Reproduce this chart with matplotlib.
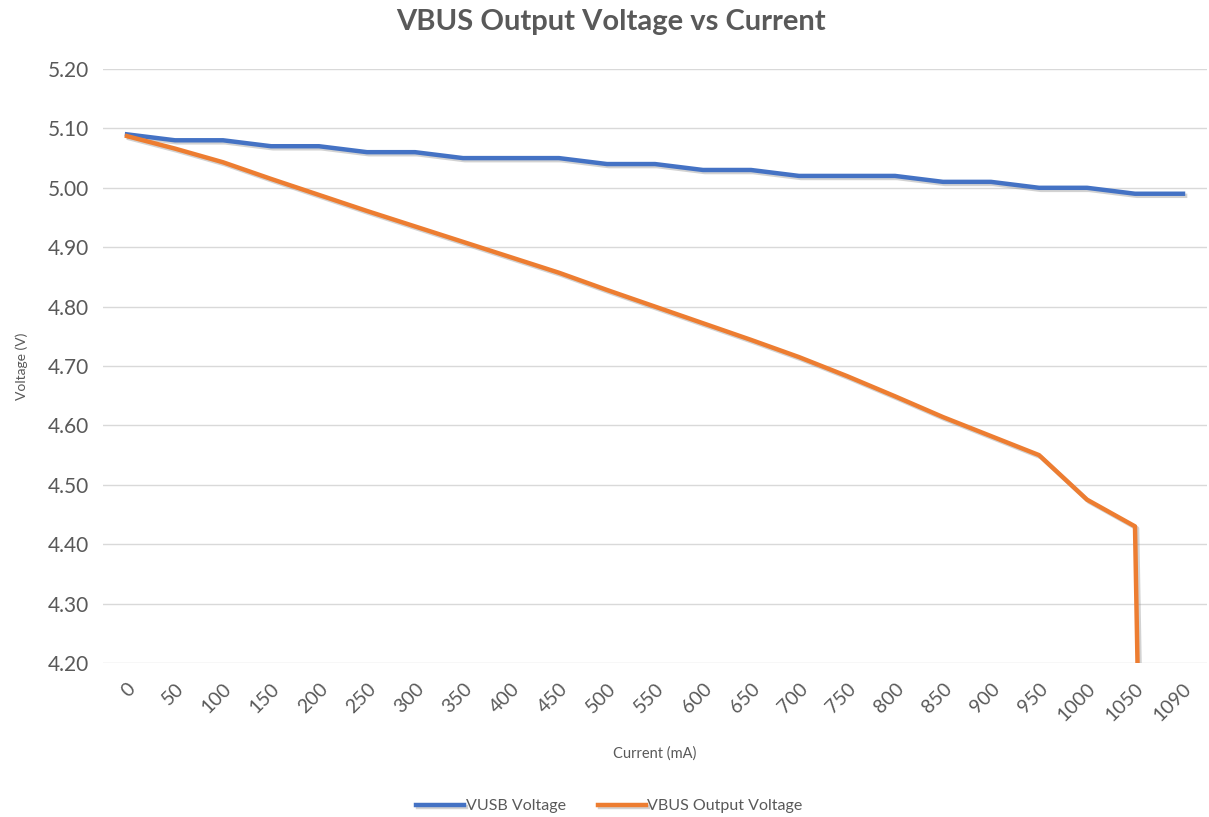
import matplotlib
matplotlib.use("Agg")
import matplotlib.pyplot as plt
import matplotlib.patheffects as pe

# data
current_ma = ["0", "50", "100", "150", "200", "250", "300", "350", "400", "450",
              "500", "550", "600", "650", "700", "750", "800", "850", "900", "950",
              "1000", "1050", "1090"]
vusb_voltage = [5.09, 5.08, 5.08, 5.07, 5.07, 5.06, 5.06, 5.05, 5.05, 5.05,
                5.04, 5.04, 5.03, 5.03, 5.02, 5.02, 5.02, 5.01, 5.01, 5.00,
                5.00, 4.99, 4.99]
vbus_voltage = [5.087, 5.066, 5.043, 5.015, 4.988, 4.961, 4.935, 4.909, 4.883, 4.857,
                4.828, 4.800, 4.772, 4.744, 4.715, 4.683, 4.649, 4.614, 4.582, 4.550,
                4.475, 4.430, 0.0]
y_ticks = [4.20, 4.30, 4.40, 4.50, 4.60, 4.70, 4.80, 4.90, 5.00, 5.10, 5.20]

plt.rcParams['font.family'] = ['Lato', 'DejaVu Sans']

text_col = '#595959'
blue = '#4472C4'
orange = '#ED7D31'

fig = plt.figure(figsize=(12.09, 8.17), dpi=100)
ax = fig.add_axes([103 / 1209, 1 - 663 / 817, 1104 / 1209, 594 / 817])

x = list(range(len(current_ma)))
shadow = [pe.SimpleLineShadow(offset=(1.5, -1.5), shadow_color='gray', alpha=0.35), pe.Normal()]
ax.plot(x, vusb_voltage, color=blue, lw=3.2, label='VUSB Voltage',
        solid_joinstyle='round', path_effects=shadow, zorder=3)
ax.plot(x, vbus_voltage, color=orange, lw=3.2, label='VBUS Output Voltage',
        solid_joinstyle='round', path_effects=shadow, zorder=3)

ax.set_xlim(-0.5, len(current_ma) - 0.5)
ax.set_ylim(4.20, 5.20)
ax.set_yticks(y_ticks)
ax.set_yticklabels([f'{v:.2f}' for v in y_ticks], fontsize=15, color=text_col)
ax.set_xticks(x)
ax.set_xticklabels(current_ma, fontsize=14, color=text_col, rotation=45,
                   ha='right', va='top', rotation_mode='anchor')
ax.tick_params(axis='both', length=0)
ax.tick_params(axis='y', pad=10)
ax.tick_params(axis='x', pad=12)
ax.grid(axis='y', color='#d9d9d9', lw=1)
ax.set_axisbelow(True)
for s in ax.spines.values():
    s.set_visible(False)

ax.set_xlabel('Current (mA)', fontsize=10.5, color=text_col, labelpad=16)
ax.set_ylabel('Voltage (V)', fontsize=10, color=text_col, labelpad=14)

fig.suptitle('VBUS Output Voltage vs Current', x=0.505, y=1 - 22 / 817, fontsize=21,
             fontweight='bold', color=text_col, va='center')

fig.legend(loc='center', bbox_to_anchor=(0.504, 1 - 806 / 817), ncol=2, frameon=False,
           fontsize=11.5, labelcolor=text_col, handlelength=3.0, handletextpad=0.1,
           columnspacing=2.0)

fig.savefig('out.png', dpi=100)
